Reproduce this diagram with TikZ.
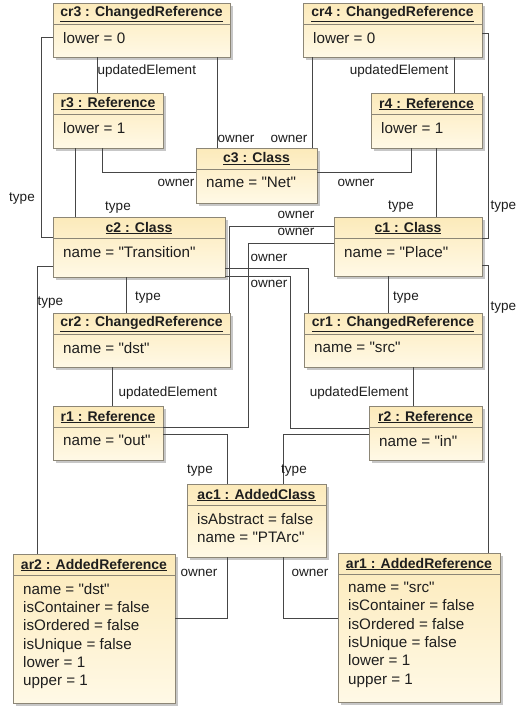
\documentclass[tikz,border=0pt]{standalone}
\usepackage{fontspec}
\setmainfont{Liberation Sans}[Ligatures=TeXOff]
\usetikzlibrary{calc}
\definecolor{boxtop}{RGB}{252,234,186}
\definecolor{boxbot}{RGB}{255,249,230}
\definecolor{boxline}{RGB}{140,134,118}
\definecolor{connc}{RGB}{70,70,70}
\definecolor{txtc}{RGB}{30,30,30}
\newcommand{\qq}{\symbol{34}}
\tikzset{
  objshadow/.style={fill=black!22},
  objbox/.style={draw=boxline, line width=0.8pt, top color=boxtop, bottom color=boxbot, inner sep=0pt, outer sep=0pt, rectangle},
  objdiv/.style={draw=boxline, line width=0.7pt},
  objhead/.style={inner sep=0pt, font=\fontsize{14}{16}\selectfont\bfseries, text=txtc},
  objattr/.style={inner sep=0pt, anchor=north west, align=left, font=\fontsize{15.2}{18.3}\selectfont, text=txtc},
  conn/.style={draw=connc, line width=0.8pt},
  lbl/.style={inner sep=0.5pt, font=\fontsize{13.5}{15}\selectfont, text=txtc}
}
\newcommand{\umlobj}[7]{%
  \fill[objshadow] (#2+3,#3+3) rectangle (#4+3,#5+3);
  \node[objbox, minimum width={(#4-#2)*1pt}, minimum height={(#5-#3)*1pt}, anchor=north west] (#1) at (#2,#3) {};
  \draw[objdiv] (#2,#3+21) -- (#4,#3+21);
  \node[objhead] (#1-h) at ({(#2+#4)/2},#3+11) {\underline{#6}};
  \node[objattr] (#1-a) at (#2+10,#3+29) {#7};
}
\begin{document}
\begin{tikzpicture}[x=1pt,y=-1pt]
\fill[white] (0,0) rectangle (515,707);
\useasboundingbox (0,0) rectangle (515,707);

\umlobj{cr3}{53}{3}{230}{57}{cr3 : ChangedReference}{lower = 0}
\umlobj{cr4}{303}{3}{482}{57}{cr4 : ChangedReference}{lower = 0}
\umlobj{r3}{53}{93}{163}{148}{r3 : Reference}{lower = 1}
\umlobj{r4}{371}{93}{482}{148}{r4 : Reference}{lower = 1}
\umlobj{c3}{196}{148}{317}{203}{c3 : Class}{name = \qq Net\qq}
\umlobj{c2}{53}{217}{225}{277}{c2 : Class}{name = \qq Transition\qq}
\umlobj{c1}{334}{217}{482}{276}{c1 : Class}{name = \qq Place\qq}
\umlobj{cr2}{53}{313}{230}{367}{cr2 : ChangedReference}{name = \qq dst\qq}
\umlobj{cr1}{304}{313}{482}{367}{cr1 : ChangedReference}{name = \qq src\qq}
\umlobj{r1}{53}{406}{163}{460}{r1 : Reference}{name = \qq out\qq}
\umlobj{r2}{369}{406}{482}{460}{r2 : Reference}{name = \qq in\qq}
\umlobj{ac1}{187}{484}{326}{557}{ac1 : AddedClass}{isAbstract = false\\name = \qq PTArc\qq}
\umlobj{ar2}{13}{554}{175}{703}{ar2 : AddedReference}{name = \qq dst\qq\\isContainer = false\\isOrdered = false\\isUnique = false\\lower = 1\\upper = 1}
\umlobj{ar1}{338}{553}{500}{702}{ar1 : AddedReference}{name = \qq src\qq\\isContainer = false\\isOrdered = false\\isUnique = false\\lower = 1\\upper = 1}

% connectors
\draw[conn] (cr3.south -| 97,0) -- (r3.north -| 97,0);
\draw[conn] (cr4.south -| 454,0) -- (r4.north -| 454,0);
\draw[conn] (cr3.south -| 217,0) -- (c3.north -| 217,0);
\draw[conn] (cr4.south -| 312,0) -- (c3.north -| 312,0);
\draw[conn] (r3.south -| 102,0) |- (c3.west |- 0,172);
\draw[conn] (r4.south -| 411,0) |- (c3.east |- 0,172);
\draw[conn] (cr3.west |- 0,37) -- ++(-12,0) |- (c2.west |- 0,237);
\draw[conn] (r3.south -| 75,0) -- (c2.north -| 75,0);
\draw[conn] (cr4.east |- 0,33) -- ++(6,0) |- (c1.east |- 0,238);
\draw[conn] (r4.south -| 436,0) -- (c1.north -| 436,0);
\draw[conn] (c2.south -| 126,0) -- (cr2.north -| 126,0);
\draw[conn] (c1.south -| 388,0) -- (cr1.north -| 388,0);
\draw[conn] (c2.west |- 0,266) -| (ar2.north -| 37,0);
\draw[conn] (c1.east |- 0,265) -| (ar1.north -| 488,0);
\draw[conn] (cr2.north -| 229,0) |- (c1.west |- 0,226);
\draw[conn] (r1.east |- 0,427) -- (248,427) |- (c1.west |- 0,243);
\draw[conn] (cr1.north -| 308,0) |- (c2.east |- 0,268);
\draw[conn] (r2.west |- 0,428) -- (290,428) |- (c2.east |- 0,276);
\draw[conn] (cr2.south -| 112,0) -- (r1.north -| 112,0);
\draw[conn] (cr1.south -| 413,0) -- (r2.north -| 413,0);
\draw[conn] (r1.east |- 0,434) -| (ac1.north -| 227,0);
\draw[conn] (r2.west |- 0,434) -| (ac1.north -| 283,0);
\draw[conn] (ar2.east |- 0,618) -| (ac1.south -| 227,0);
\draw[conn] (ar1.west |- 0,618) -| (ac1.south -| 283,0);

% labels
\node[lbl, anchor=west] (l1) at (97,71) {updatedElement};
\node[lbl, anchor=east] (l2) at (449,71) {updatedElement};
\node[lbl, anchor=west] (l3) at (217,139) {owner};
\node[lbl, anchor=east] (l4) at (308,139) {owner};
\node[lbl, anchor=east] (l5) at (195,183) {owner};
\node[lbl, anchor=west] (l6) at (337,183) {owner};
\node[lbl] (l7) at (22,199) {type};
\node[lbl] (l8) at (118,208) {type};
\node[lbl, anchor=west] (l9) at (490,207) {type};
\node[lbl] (l10) at (401,207) {type};
\node[lbl] (l11) at (148,298) {type};
\node[lbl] (l12) at (406,298) {type};
\node[lbl, anchor=west] (l13) at (37,303) {type};
\node[lbl, anchor=west] (l14) at (490,308) {type};
\node[lbl] (l15) at (296,215) {owner};
\node[lbl] (l16) at (296,232) {owner};
\node[lbl] (l17) at (269,258) {owner};
\node[lbl] (l18) at (269,284) {owner};
\node[lbl, anchor=west] (l19) at (118,393) {updatedElement};
\node[lbl, anchor=east] (l20) at (409,393) {updatedElement};
\node[lbl] (l21) at (200,471) {type};
\node[lbl] (l22) at (294,471) {type};
\node[lbl] (l23) at (199,573) {owner};
\node[lbl] (l24) at (310,573) {owner};
\end{tikzpicture}
\end{document}
